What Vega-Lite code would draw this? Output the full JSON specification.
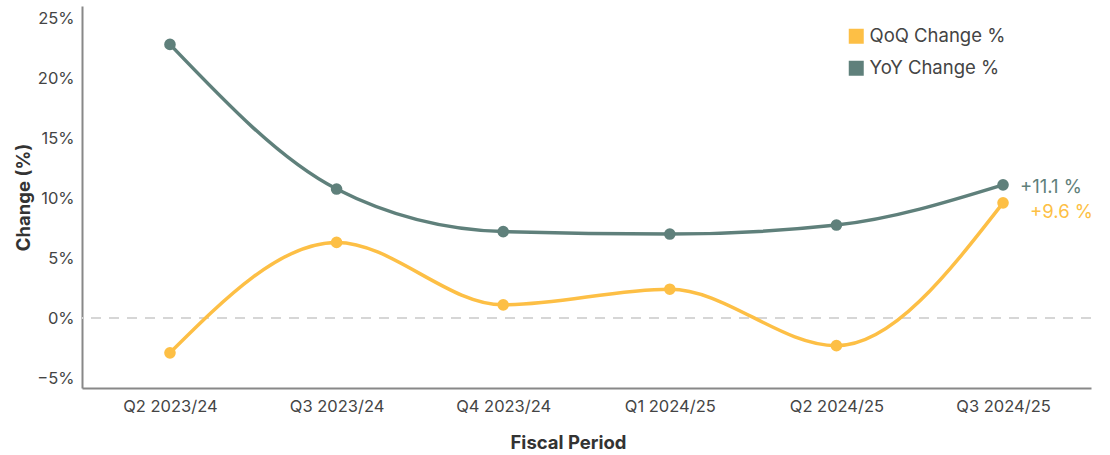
{
  "$schema": "https://vega.github.io/schema/vega-lite/v6.json",
  "width": 1009,
  "height": 382,
  "autosize": {"type": "none"},
  "padding": {"left": 82, "top": 6, "right": 19, "bottom": 67},
  "config": {"font": "Inter", "view": {"stroke": null}},
  "data": {
    "values": [
      {"period": "Q2 2023/24", "series": "QoQ Change %", "value": -2.9, "label": null},
      {"period": "Q3 2023/24", "series": "QoQ Change %", "value": 6.3, "label": null},
      {"period": "Q4 2023/24", "series": "QoQ Change %", "value": 1.1, "label": null},
      {"period": "Q1 2024/25", "series": "QoQ Change %", "value": 2.4, "label": null},
      {"period": "Q2 2024/25", "series": "QoQ Change %", "value": -2.3, "label": null},
      {"period": "Q3 2024/25", "series": "QoQ Change %", "value": 9.6, "label": "+9.6 %"},
      {"period": "Q2 2023/24", "series": "YoY Change %", "value": 22.8, "label": null},
      {"period": "Q3 2023/24", "series": "YoY Change %", "value": 10.75, "label": null},
      {"period": "Q4 2023/24", "series": "YoY Change %", "value": 7.2, "label": null},
      {"period": "Q1 2024/25", "series": "YoY Change %", "value": 7.0, "label": null},
      {"period": "Q2 2024/25", "series": "YoY Change %", "value": 7.75, "label": null},
      {"period": "Q3 2024/25", "series": "YoY Change %", "value": 11.1, "label": "+11.1 %"}
    ]
  },
  "encoding": {
    "x": {
      "field": "period",
      "type": "ordinal",
      "sort": null,
      "scale": {"type": "point", "padding": 0.528},
      "axis": {
        "title": "Fiscal Period",
        "labelAngle": 0,
        "ticks": false,
        "domainColor": "#888888",
        "domainWidth": 2,
        "labelFontSize": 16.5,
        "labelColor": "#444444",
        "labelPadding": 10,
        "titleFontSize": 18.5,
        "titleFontWeight": "bold",
        "titleColor": "#333333",
        "titlePadding": 19,
        "titleX": 486
      }
    },
    "y": {
      "field": "value",
      "type": "quantitative",
      "scale": {"domain": [-5.83, 26], "nice": false, "zero": false},
      "axis": {
        "title": "Change (%)",
        "values": [-5, 0, 5, 10, 15, 20, 25],
        "labelExpr": "format(datum.value, 'd') + '%'",
        "grid": false,
        "ticks": false,
        "domainColor": "#888888",
        "domainWidth": 2,
        "labelFontSize": 16.5,
        "labelColor": "#444444",
        "labelPadding": 8,
        "titleFontSize": 18.5,
        "titleFontWeight": "bold",
        "titleColor": "#333333",
        "titlePadding": 3
      }
    }
  },
  "layer": [
    {
      "mark": {"type": "rule", "strokeDash": [10, 8], "color": "#d6d6d6", "strokeWidth": 1.5},
      "encoding": {"y": {"datum": 0}, "x": null}
    },
    {
      "mark": {"type": "line", "interpolate": "monotone", "strokeWidth": 3.5},
      "encoding": {
        "color": {
          "field": "series",
          "type": "nominal",
          "scale": {"domain": ["QoQ Change %", "YoY Change %"], "range": ["#FDBF45", "#5F807B"]},
          "legend": {
            "title": null,
            "orient": "none",
            "legendX": 765,
            "legendY": 21,
            "labelFontSize": 18.5,
            "labelColor": "#444444",
            "symbolType": "square",
            "symbolSize": 225,
            "symbolStrokeWidth": 0,
            "symbolOpacity": 1,
            "rowPadding": 13,
            "labelOffset": 4
          }
        }
      }
    },
    {
      "mark": {"type": "circle", "size": 135, "opacity": 1},
      "encoding": {"color": {"field": "series", "type": "nominal", "legend": null}}
    },
    {
      "transform": [{"filter": "datum.series === 'YoY Change %' && datum.label != null"}],
      "mark": {"type": "text", "align": "left", "baseline": "middle", "fontSize": 18.5, "dx": 17, "dy": 2, "color": "#5F807B"},
      "encoding": {"text": {"field": "label"}}
    },
    {
      "transform": [{"filter": "datum.series === 'QoQ Change %' && datum.label != null"}],
      "mark": {"type": "text", "align": "left", "baseline": "middle", "fontSize": 18.5, "dx": 27, "dy": 9, "color": "#FDBF45"},
      "encoding": {"text": {"field": "label"}}
    }
  ]
}
